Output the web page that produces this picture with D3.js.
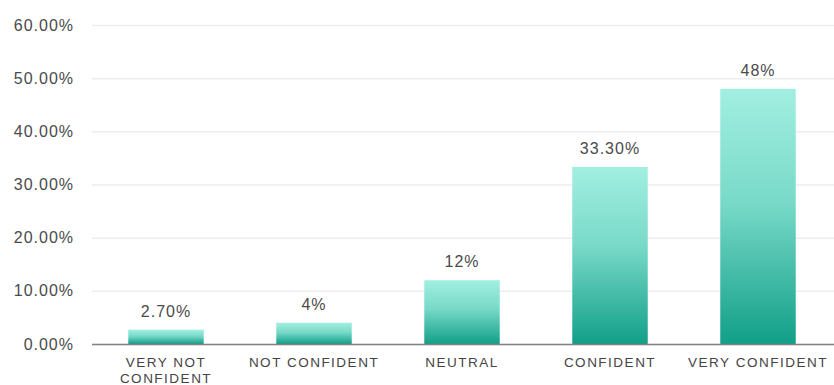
<!DOCTYPE html>
<html><head><meta charset="utf-8">
<script src="https://cdn.jsdelivr.net/npm/d3@7"></script>
<style>body{margin:0;background:#fff;}svg{display:block;font-family:"Liberation Sans",Arial,sans-serif;}</style>
</head><body><svg id="c" width="834" height="385"></svg>
<script>
const categories = [["VERY NOT","CONFIDENT"],["NOT CONFIDENT"],["NEUTRAL"],["CONFIDENT"],["VERY CONFIDENT"]];
const values = [2.7, 4, 12, 33.3, 48];
const valueLabels = ["2.70%","4%","12%","33.30%","48%"];
const yTicks = [0,10,20,30,40,50,60];

(function(){
const svg = d3.select("#c");
const mLeft = 92, mRight = 834, mTop = 25, mBottom = 344;
const x = d3.scaleBand().domain(d3.range(values.length)).range([mLeft, mRight - 2]).paddingInner(0.49).paddingOuter(0.245);
const y = d3.scaleLinear().domain([0, 60]).range([mBottom, mTop]);

const defs = svg.append("defs");
const g = defs.append("linearGradient").attr("id","grad").attr("x1",0).attr("y1",0).attr("x2",0).attr("y2",1);
g.append("stop").attr("offset","0%").attr("stop-color","#a2efe1");
g.append("stop").attr("offset","45%").attr("stop-color","#78d9c8");
g.append("stop").attr("offset","100%").attr("stop-color","#119f88");

const yAxis = d3.axisLeft(y).tickValues(yTicks).tickFormat(d => d.toFixed(2) + "%").tickSize(-(mRight - mLeft)).tickPadding(18);
const ya = svg.append("g").attr("transform", `translate(${mLeft},0)`).call(yAxis);
ya.select(".domain").remove();
ya.selectAll(".tick line").attr("stroke", "#ededed").attr("stroke-width", 1.5);
ya.selectAll(".tick text").attr("fill", "#4a4a4a").attr("font-size", 16).attr("letter-spacing", 1)
  .attr("font-family","Liberation Sans, Arial, sans-serif");

svg.selectAll("rect.bar").data(values).join("rect").attr("class","bar")
  .attr("x", (d,i) => x(i)).attr("width", x.bandwidth())
  .attr("y", d => y(d)).attr("height", d => mBottom - y(d))
  .attr("fill", "url(#grad)");

svg.append("line").attr("x1", mLeft).attr("x2", mRight).attr("y1", mBottom + 0.5).attr("y2", mBottom + 0.5).attr("stroke", "#808080").attr("stroke-width", 1.5);

svg.selectAll("text.val").data(values).join("text").attr("class","val")
  .attr("x", (d,i) => x(i) + x.bandwidth()/2).attr("y", d => y(d) - 13)
  .attr("text-anchor","middle").attr("font-size", 16).attr("letter-spacing", 1).attr("fill","#4a4a4a")
  .text((d,i) => valueLabels[i]);

const cat = svg.selectAll("text.cat").data(categories).join("text").attr("class","cat")
  .attr("text-anchor","middle").attr("font-size", 13.5).attr("letter-spacing", 1.5).attr("fill","#444")
  .attr("x", (d,i) => x(i) + x.bandwidth()/2).attr("y", mBottom + 23);
cat.selectAll("tspan").data(d => d).join("tspan")
  .attr("x", function(){ return this.parentNode.getAttribute("x"); })
  .attr("dy", (d,i) => i === 0 ? 0 : 15.5).text(d => d);
})();
</script></body></html>
